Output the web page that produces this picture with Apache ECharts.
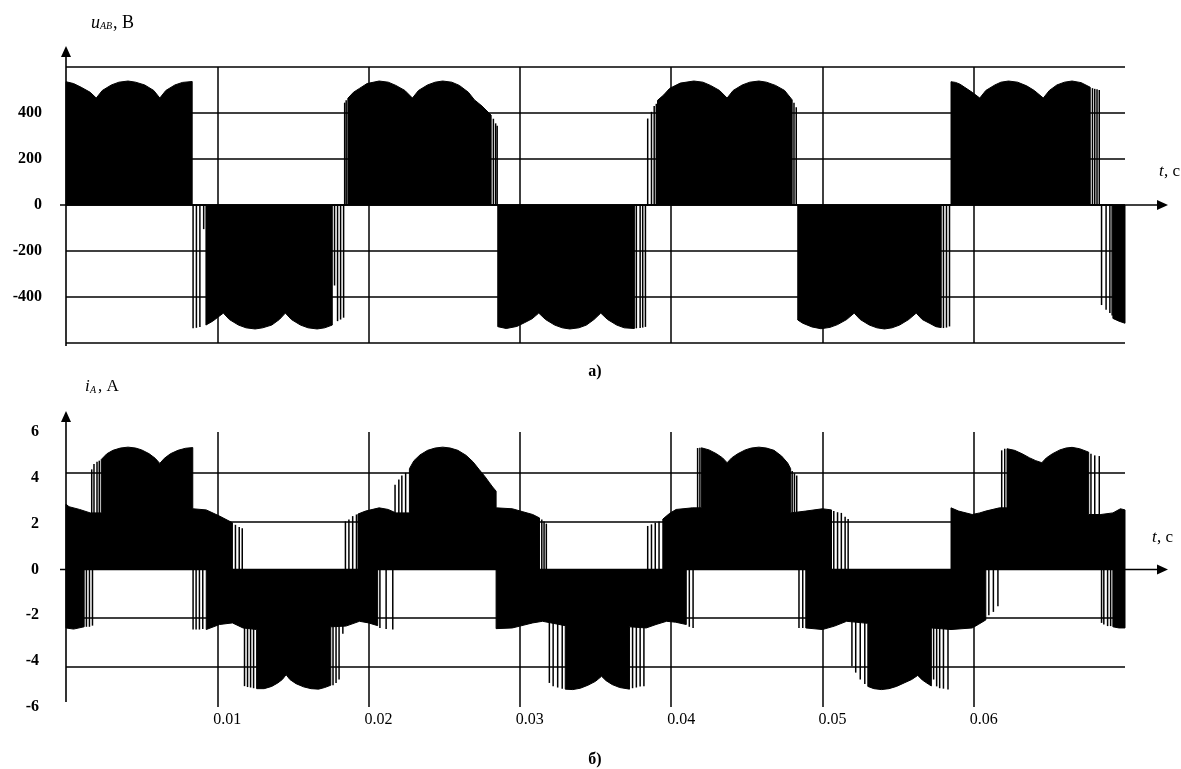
<!DOCTYPE html>
<html>
<head>
<meta charset="utf-8">
<title>u_AB, i_A</title>
<script src="https://cdn.jsdelivr.net/npm/echarts@6/dist/echarts.min.js"></script>
<style>
  html, body { margin: 0; padding: 0; background: #fff; }
  #chart { width: 1181px; height: 769px; }
</style>
</head>
<body>
<div id="chart"></div>
<script>
// time is in ms (axis labels are shown in seconds)

// levels of the horizontal lines in panel b), they do not sit on the ticks
const iLevels = [4.24, 2.1, -2.12, -4.24]

// u_AB: dense (fully black) part, upper and lower edge
const uUpper = [
  [0, 0], [0, 536], [0.5, 528], [1.0, 512], [1.6, 490], [2.0, 465], [2.4, 498], [3.0, 522], [3.5, 534], [4.1, 539],
  [4.6, 534], [5.2, 522], [5.8, 498], [6.2, 465], [6.6, 498], [7.2, 522], [7.7, 533], [8.34, 537], [8.34, 0],
  [18.63, 0], [18.63, 464], [19.0, 490], [19.4, 507], [19.9, 528], [20.7, 539], [21.3, 534], [21.8, 520], [22.4, 498],
  [22.9, 465], [23.3, 498], [23.9, 522], [24.4, 534], [24.9, 539], [25.5, 534], [26.0, 520], [26.6, 490], [27.0, 457],
  [27.5, 430], [28.1, 391], [28.1, 0],
  [39.1, 0], [39.1, 455], [39.5, 478], [39.9, 507], [40.6, 530], [41.5, 539], [42.1, 534], [42.6, 520], [43.2, 498],
  [43.7, 465], [44.1, 498], [44.7, 522], [45.2, 534], [45.8, 539], [46.3, 534], [46.9, 520], [47.5, 498], [48.0, 457], [48.0, 0],
  [58.5, 0], [58.5, 536], [58.8, 533], [59.1, 525], [59.4, 512], [59.9, 490], [60.4, 465], [60.8, 498], [61.4, 522], [61.8, 534],
  [62.3, 539], [62.9, 534], [63.5, 518], [64.0, 498], [64.6, 465], [65.0, 498], [65.5, 522], [66.0, 534], [66.5, 539],
  [67.1, 532], [67.7, 512], [67.7, 0],
  [70, 0]
]
const uLower = [
  [0, 0], [9.25, 0], [9.25, -522], [9.7, -505], [10.4, -470], [10.8, -498], [11.4, -522], [11.9, -534], [12.5, -539],
  [13.0, -534], [13.6, -522], [14.1, -498], [14.5, -470], [14.9, -498], [15.5, -522], [16.0, -534], [16.6, -539],
  [17.1, -534], [17.6, -522], [17.6, 0],
  [28.54, 0], [28.54, -529], [29.1, -537], [29.8, -528], [30.3, -512], [30.8, -495], [31.25, -470], [31.7, -498],
  [32.3, -522], [32.8, -534], [33.3, -539], [33.9, -534], [34.4, -522], [34.9, -498], [35.35, -470], [35.8, -498],
  [36.4, -522], [36.9, -534], [37.57, -537], [37.57, 0],
  [48.37, 0], [48.37, -500], [48.7, -514], [49.3, -530], [49.9, -538], [50.5, -532], [51.0, -520], [51.6, -498],
  [52.1, -470], [52.5, -498], [53.1, -522], [53.6, -534], [54.1, -539], [54.6, -534], [55.1, -522], [55.7, -498],
  [56.2, -470], [56.6, -498], [57.1, -515], [57.5, -529], [57.85, -533], [57.85, 0],
  [69.2, 0], [69.2, -493], [69.6, -505], [70, -514], [70, 0]
]
// u_AB: single switching pulses at the edges of the blocks
const uPulses = [
  [8.4, -536], [8.62, -534], [8.85, -530], [9.1, -105],
  [17.75, -350], [17.95, -505], [18.15, -498], [18.35, -490],
  [18.42, 445], [18.52, 455],
  [28.25, 375], [28.4, 355], [28.5, 345],
  [37.7, -536], [37.95, -535], [38.12, -533], [38.3, -530],
  [38.45, 376], [38.7, 405], [38.88, 430], [39.02, 440],
  [48.12, 445], [48.27, 425],
  [58.0, -535], [58.2, -533], [58.4, -528],
  [67.85, 508], [68.0, 505], [68.15, 503], [68.3, 500],
  [68.45, -435], [68.75, -455], [69.0, -470], [69.15, -480]
]

// i_A: dense part, upper and lower edge
const iUpper = [
  [0, 0], [0, 2.85], [0.2, 2.74], [0.9, 2.62], [1.6, 2.47], [2.33, 2.47],
  [2.33, 4.8], [2.7, 5.05], [3.1, 5.2], [3.6, 5.3], [4.1, 5.34], [4.6, 5.3], [5.0, 5.22], [5.5, 5.05], [5.9, 4.85],
  [6.2, 4.63], [6.5, 4.85], [6.9, 5.05], [7.4, 5.2], [7.9, 5.29], [8.38, 5.32],
  [8.38, 2.65], [9.27, 2.6], [10.15, 2.33], [11.0, 2.04], [11.0, 0],
  [19.3, 0], [19.3, 2.42], [19.8, 2.55], [20.7, 2.69], [21.3, 2.62], [21.8, 2.47], [22.7, 2.47],
  [22.7, 4.4], [23.0, 4.75], [23.4, 5.0], [23.9, 5.2], [24.4, 5.3], [24.9, 5.34], [25.4, 5.3], [25.9, 5.2], [26.45, 4.98],
  [26.9, 4.7], [27.3, 4.37], [27.7, 4.05], [28.0, 3.78], [28.2, 3.6], [28.43, 3.42],
  [28.43, 2.69], [29.5, 2.65], [30.2, 2.52], [30.85, 2.4], [31.3, 2.25], [31.3, 0],
  [39.45, 0], [39.45, 2.2], [39.9, 2.45], [40.33, 2.62], [41.4, 2.69], [42.0, 2.69],
  [42.0, 5.31], [42.5, 5.22], [43.0, 5.05], [43.4, 4.87], [43.7, 4.66], [44.0, 4.87], [44.4, 5.05], [44.9, 5.22],
  [45.3, 5.3], [45.8, 5.34], [46.3, 5.3], [46.8, 5.2], [47.3, 4.95], [47.7, 4.65], [47.9, 4.4],
  [47.9, 2.47], [48.9, 2.55], [50.0, 2.65], [50.6, 2.6], [50.6, 0],
  [58.5, 0], [58.5, 2.69], [59.0, 2.55], [59.9, 2.4], [60.4, 2.47], [60.8, 2.55], [61.7, 2.69], [62.2, 2.69],
  [62.2, 5.27], [62.7, 5.2], [63.2, 5.05], [63.7, 4.87], [64.1, 4.75], [64.5, 4.66], [64.8, 4.87], [65.2, 5.05],
  [65.7, 5.22], [66.1, 5.3], [66.5, 5.33], [67.0, 5.27], [67.6, 5.12],
  [67.6, 2.4], [68.4, 2.4], [69.2, 2.47], [69.7, 2.65], [70, 2.6], [70, 0]
]
const iLower = [
  [0, 0], [0, -2.55], [0.5, -2.6], [1.2, -2.5], [1.2, 0],
  [9.27, 0], [9.27, -2.62], [10.15, -2.4], [11.0, -2.33], [11.7, -2.55], [12.6, -2.62],
  [12.6, -5.2], [13.1, -5.2], [13.6, -5.1], [14.0, -4.95], [14.3, -4.8], [14.55, -4.59], [14.8, -4.8], [15.2, -4.98],
  [15.7, -5.12], [16.2, -5.2], [16.7, -5.22], [17.1, -5.15], [17.5, -5.05],
  [17.5, -2.5], [18.5, -2.47], [19.4, -2.26], [20.0, -2.33], [20.6, -2.45], [20.6, 0],
  [28.43, 0], [28.43, -2.58], [29.5, -2.55], [30.0, -2.47], [30.85, -2.33], [31.5, -2.26], [33.0, -2.45],
  [33.0, -5.22], [33.5, -5.24], [34.0, -5.18], [34.5, -5.05], [35.0, -4.88], [35.4, -4.66], [35.7, -4.85],
  [36.1, -5.02], [36.6, -5.15], [37.25, -5.22],
  [37.25, -2.5], [38.35, -2.55], [39.0, -2.4], [39.7, -2.26], [40.3, -2.3], [41.0, -2.4], [41.0, 0],
  [48.9, 0], [48.9, -2.55], [50.0, -2.62], [50.8, -2.47], [51.6, -2.26], [53.0, -2.35],
  [53.0, -5.1], [53.4, -5.2], [53.9, -5.24], [54.4, -5.2], [54.9, -5.1], [55.4, -4.95], [55.9, -4.8], [56.3, -4.62],
  [56.6, -4.82], [57.0, -5.0], [57.2, -5.08],
  [57.2, -2.55], [58.5, -2.62], [59.9, -2.55], [60.3, -2.4], [60.8, -2.2], [60.8, 0],
  [69.2, 0], [69.2, -2.5], [69.6, -2.55], [70, -2.55], [70, 0]
]
// i_A: single switching pulses at the edges of the zones
const iPulses = [
  [1.7, 4.37], [1.85, 4.6], [2.05, 4.7], [2.2, 4.75],
  [1.35, -2.5], [1.55, -2.5], [1.75, -2.45],
  [8.4, -2.62], [8.6, -2.62], [8.82, -2.62], [9.04, -2.6],
  [11.2, 1.95], [11.45, 1.85], [11.65, 1.8],
  [11.8, -5.09], [12.0, -5.13], [12.2, -5.15], [12.4, -5.18],
  [17.65, -5.05], [17.85, -4.95], [18.05, -4.8], [18.3, -2.8],
  [18.47, 2.1], [18.7, 2.18], [18.95, 2.33], [19.2, 2.4],
  [20.75, -2.55], [21.16, -2.6], [21.6, -2.62],
  [21.75, 3.7], [22.0, 3.93], [22.2, 4.1], [22.45, 4.22],
  [31.45, 2.18], [31.6, 2.1], [31.75, 2.0],
  [31.95, -4.95], [32.2, -5.09], [32.5, -5.15], [32.8, -5.2],
  [37.45, -5.18], [37.7, -5.15], [37.95, -5.1], [38.2, -5.09],
  [38.45, 1.9], [38.7, 1.97], [38.95, 2.04], [39.2, 2.1],
  [41.2, -2.5], [41.45, -2.55],
  [41.75, 5.3], [41.9, 5.31],
  [48.0, 4.3], [48.15, 4.2], [48.3, 4.1],
  [48.45, -2.55], [48.7, -2.55],
  [50.75, 2.55], [51.0, 2.5], [51.25, 2.47], [51.5, 2.3], [51.7, 2.2],
  [51.95, -4.22], [52.2, -4.5], [52.5, -4.8], [52.8, -5.0],
  [57.35, -4.8], [57.55, -5.1], [57.75, -5.18], [58.0, -5.2], [58.3, -5.24],
  [61.0, -2.0], [61.3, -1.85], [61.6, -1.6],
  [61.85, 5.2], [62.05, 5.27],
  [67.75, 5.05], [68.0, 4.98], [68.3, 4.95],
  [68.45, -2.33], [68.6, -2.4], [68.85, -2.47], [69.05, -2.47]
]

const serif = '"Liberation Serif", "Times New Roman", serif'
const gridLine = { color: '#000', width: 1.5 }

const chart = echarts.init(document.getElementById('chart'))

function envelope(data, idx, extra) {
  return Object.assign({
    type: 'line',
    data: data,
    xAxisIndex: idx,
    yAxisIndex: idx,
    symbol: 'none',
    silent: true,
    animation: false,
    lineStyle: { color: '#000', width: 1 },
    areaStyle: { color: '#000', opacity: 1, origin: 0 }
  }, extra)
}

function pulses(data, idx) {
  return {
    type: 'bar',
    data: data,
    xAxisIndex: idx,
    yAxisIndex: idx,
    barWidth: 1.5,
    silent: true,
    animation: false,
    itemStyle: { color: '#000' }
  }
}

function timeAxis(idx, showLabels) {
  return {
    gridIndex: idx,
    type: 'value',
    min: 0,
    max: 70,
    interval: 10,
    axisLine: { show: false, onZero: false },
    axisTick: { show: false },
    axisLabel: {
      show: showLabels,
      margin: 5,
      padding: [0, 0, 0, 20],
      color: '#000',
      fontFamily: serif,
      fontSize: 16,
      formatter: v => (v > 0 && v < 70) ? (v / 1000).toFixed(2) : ''
    },
    splitLine: { show: true, showMinLine: false, showMaxLine: false, lineStyle: gridLine }
  }
}

const option = {
  backgroundColor: '#fff',
  animation: false,
  grid: [
    { left: 66, top: 67, width: 1059, height: 276 },
    { left: 66, top: 432, width: 1059, height: 275 }
  ],
  xAxis: [timeAxis(0, false), timeAxis(1, true)],
  yAxis: [
    {
      gridIndex: 0, type: 'value', min: -600, max: 600, interval: 200,
      axisLine: { show: false }, axisTick: { show: false },
      axisLabel: {
        margin: 24, color: '#000', fontFamily: serif, fontSize: 16, fontWeight: 'bold',
        formatter: v => Math.abs(v) <= 400 ? String(v) : ''
      },
      splitLine: { show: true, lineStyle: gridLine }
    },
    {
      gridIndex: 1, type: 'value', min: -6, max: 6, interval: 2,
      axisLine: { show: false }, axisTick: { show: false },
      axisLabel: { margin: 27, color: '#000', fontFamily: serif, fontSize: 16, fontWeight: 'bold' },
      splitLine: { show: false }
    }
  ],
  series: [
    envelope(uUpper, 0),
    envelope(uLower, 0),
    pulses(uPulses, 0),
    envelope(iUpper, 1, {
      markLine: {
        silent: true,
        symbol: 'none',
        animation: false,
        label: { show: false },
        lineStyle: { color: '#000', width: 1.5, type: 'solid' },
        data: iLevels.map(v => ({ yAxis: v }))
      }
    }),
    envelope(iLower, 1),
    pulses(iPulses, 1)
  ]
}

chart.setOption(option)

// axes with arrows stick out of the grid, so they are drawn from the axis scale
function axisArrows(gridIndex, yMin, yMax, bottomExtra) {
  const o = chart.convertToPixel({ gridIndex }, [0, 0])
  const xEnd = chart.convertToPixel({ gridIndex }, [70, 0])[0]
  const yTop = chart.convertToPixel({ gridIndex }, [0, yMax])[1]
  const yBottom = chart.convertToPixel({ gridIndex }, [0, yMin])[1]
  const stroke = { stroke: '#000', lineWidth: 1.6 }
  return [
    { type: 'line', z: 10, shape: { x1: o[0] - 6, y1: o[1], x2: xEnd + 34, y2: o[1] }, style: stroke },
    { type: 'polygon', z: 10, shape: { points: [[xEnd + 43, o[1]], [xEnd + 32, o[1] - 5], [xEnd + 32, o[1] + 5]] }, style: { fill: '#000' } },
    { type: 'line', z: 10, shape: { x1: o[0], y1: yBottom + bottomExtra, x2: o[0], y2: yTop - 12 }, style: stroke },
    { type: 'polygon', z: 10, shape: { points: [[o[0], yTop - 21], [o[0] - 5, yTop - 10], [o[0] + 5, yTop - 10]] }, style: { fill: '#000' } }
  ]
}

// text, x, y (middle), font, align
const captions = [
  ['u', 91, 23, 'italic 18px'], ['AB', 100, 26, 'italic 10px'], [', B', 113, 23, '18px'],
  ['i', 85, 387, 'italic 17px'], ['A', 90, 390, 'italic 10px'], [', A', 98, 387, '17px'],
  ['t', 1159, 172, 'italic 17px'], [', c', 1164, 172, '17px'],
  ['t', 1152, 538, 'italic 17px'], [', c', 1157, 538, '17px'],
  ['а)', 595, 372, 'bold 16px', 'center'], ['б)', 595, 760, 'bold 16px', 'center']
]

const texts = captions.map(c => ({
  type: 'text',
  z: 10,
  style: {
    text: c[0], x: c[1], y: c[2],
    font: c[3] + ' ' + serif,
    fill: '#000',
    align: c[4] || 'left',
    verticalAlign: 'middle'
  }
}))

chart.setOption({
  graphic: [].concat(axisArrows(0, -600, 600, 3), axisArrows(1, -6, 6, -5), texts)
})
</script>
</body>
</html>
